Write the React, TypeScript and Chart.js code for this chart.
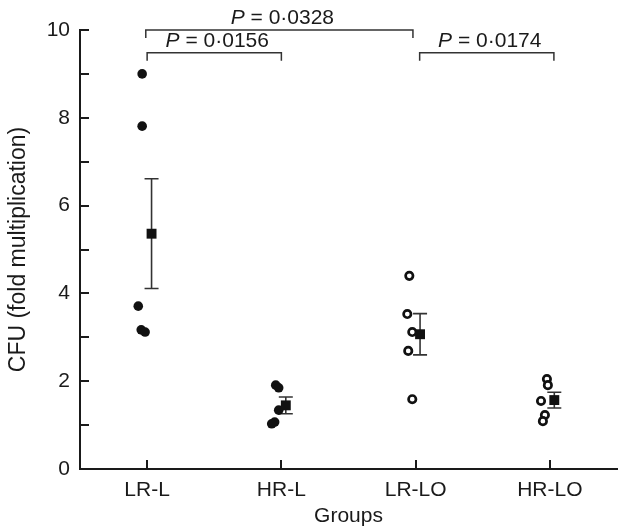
import { useEffect, useRef } from 'react';
import { Chart, registerables } from 'chart.js';

Chart.register(...registerables);

const categories = ['LR-L', 'HR-L', 'LR-LO', 'HR-LO'];

// individual values per group
const lrL = [9.0, 7.81, 3.71, 3.17, 3.12];
const hrL = [1.91, 1.85, 1.34, 1.07, 1.03];
const lrLO = [4.4, 3.53, 3.12, 2.69, 1.59];
const hrLO = [2.05, 1.91, 1.55, 1.23, 1.09];

// horizontal scatter (category units) of individual points
const jitterLrL = [-0.037, -0.037, -0.066, -0.044, -0.015];
const jitterHrL = [-0.042, -0.02, -0.02, -0.05, -0.072];
const jitterLrLO = [-0.047, -0.062, -0.025, -0.055, -0.025];
const jitterHrLO = [-0.022, -0.015, -0.066, -0.037, -0.052];

// group means and SEM
const means = [5.36, 1.45, 3.07, 1.57];
const sems = [1.25, 0.19, 0.47, 0.18];
const meanOffset = 0.033;

// significance brackets
const bracketFrom = [0.99, 1.0, 3.03];
const bracketTo = [2.98, 2.0, 4.03];
const bracketY = [10, 9.48, 9.48];
const bracketP = ['0·0328', '0·0156', '0·0174'];

const yTicks = [0, 1, 2, 3, 4, 5, 6, 7, 8, 9, 10];

const FONT = '"Liberation Sans", Arial, Helvetica, sans-serif';
const INK = '#1a1a1a';

const toPts = (vals: number[], jit: number[], g: number) =>
  vals.map((v, i) => ({ x: g + jit[i], y: v }));

export default function App() {
  const ref = useRef<HTMLCanvasElement | null>(null);

  useEffect(() => {
    const canvas = ref.current;
    if (!canvas) return;

    const overlay = {
      id: 'overlay',
      beforeDatasetsDraw(chart: any) {
        const { ctx, scales } = chart;
        const x = scales.x;
        const y = scales.y;
        ctx.save();
        ctx.strokeStyle = '#333';
        ctx.lineWidth = 1.6;
        means.forEach((m, i) => {
          const px = x.getPixelForValue(i + 1 + meanOffset);
          const top = y.getPixelForValue(m + sems[i]);
          const bot = y.getPixelForValue(m - sems[i]);
          ctx.beginPath();
          ctx.moveTo(px, top);
          ctx.lineTo(px, bot);
          ctx.moveTo(px - 7, top);
          ctx.lineTo(px + 7, top);
          ctx.moveTo(px - 7, bot);
          ctx.lineTo(px + 7, bot);
          ctx.stroke();
        });
        ctx.restore();
      },
      afterDraw(chart: any) {
        const { ctx, scales, chartArea } = chart;
        const x = scales.x;
        const y = scales.y;
        ctx.save();
        // inward tick marks
        ctx.strokeStyle = INK;
        ctx.lineWidth = 2;
        ctx.beginPath();
        yTicks.forEach((v) => {
          const py = Math.round(y.getPixelForValue(v));
          ctx.moveTo(chartArea.left, py);
          ctx.lineTo(chartArea.left + 9, py);
        });
        categories.forEach((_, i) => {
          const px = Math.round(x.getPixelForValue(i + 1));
          ctx.moveTo(px, chartArea.bottom);
          ctx.lineTo(px, chartArea.bottom - 9);
        });
        ctx.stroke();

        // brackets
        ctx.strokeStyle = '#333';
        ctx.lineWidth = 1.5;
        ctx.fillStyle = INK;
        bracketFrom.forEach((f, i) => {
          const x1 = x.getPixelForValue(f);
          const x2 = x.getPixelForValue(bracketTo[i]);
          const py = y.getPixelForValue(bracketY[i]);
          ctx.beginPath();
          ctx.moveTo(x1, py + 8);
          ctx.lineTo(x1, py);
          ctx.lineTo(x2, py);
          ctx.lineTo(x2, py + 8);
          ctx.stroke();

          const italic = 'italic 21px ' + FONT;
          const normal = '21px ' + FONT;
          const rest = ' = ' + bracketP[i];
          ctx.font = italic;
          const w1 = ctx.measureText('P').width;
          ctx.font = normal;
          const w2 = ctx.measureText(rest).width;
          const cx = (x1 + x2) / 2 + 3;
          const sx = cx - (w1 + w2) / 2;
          ctx.textBaseline = 'alphabetic';
          ctx.textAlign = 'left';
          ctx.font = italic;
          ctx.fillText('P', sx, py - 6);
          ctx.font = normal;
          ctx.fillText(rest, sx + w1, py - 6);
        });
        ctx.restore();
      },
    };

    const chart = new Chart(canvas, {
      type: 'scatter',
      data: {
        datasets: [
          {
            label: 'mean',
            data: means.map((m, i) => ({ x: i + 1 + meanOffset, y: m })),
            pointStyle: 'rect',
            pointRadius: 7,
            backgroundColor: '#111',
            borderColor: '#111',
            borderWidth: 0,
          },
          {
            label: 'LR-L',
            data: toPts(lrL, jitterLrL, 1),
            pointStyle: 'circle',
            pointRadius: 4.8,
            backgroundColor: '#111',
            borderColor: '#111',
            borderWidth: 0,
          },
          {
            label: 'HR-L',
            data: toPts(hrL, jitterHrL, 2),
            pointStyle: 'circle',
            pointRadius: 4.8,
            backgroundColor: '#111',
            borderColor: '#111',
            borderWidth: 0,
          },
          {
            label: 'LR-LO',
            data: toPts(lrLO, jitterLrLO, 3),
            pointStyle: 'circle',
            pointRadius: 3.7,
            backgroundColor: '#fff',
            borderColor: '#111',
            borderWidth: 2.7,
          },
          {
            label: 'HR-LO',
            data: toPts(hrLO, jitterHrLO, 4),
            pointStyle: 'circle',
            pointRadius: 3.7,
            backgroundColor: '#fff',
            borderColor: '#111',
            borderWidth: 2.7,
          },
        ],
      },
      options: {
        responsive: false,
        animation: false,
        devicePixelRatio: 1,
        layout: { padding: { top: 30, right: 0, left: 0, bottom: 0 } },
        plugins: {
          legend: { display: false },
          tooltip: { enabled: false },
        },
        elements: { point: { hoverRadius: 0 } },
        scales: {
          x: {
            type: 'linear',
            min: 0.5,
            max: 4.5,
            afterBuildTicks: (axis: any) => {
              axis.ticks = categories.map((_, i) => ({ value: i + 1 }));
            },
            afterFit: (axis: any) => {
              axis.height = 60;
            },
            grid: { display: false, drawTicks: false },
            border: { display: true, color: INK, width: 2 },
            ticks: {
              autoSkip: false,
              maxRotation: 0,
              padding: 9,
              color: INK,
              font: { family: FONT, size: 21 },
              callback: (v: any) => categories[Number(v) - 1] ?? '',
            },
            title: {
              display: true,
              text: 'Groups',
              color: INK,
              font: { family: FONT, size: 21 },
              padding: { top: 0, bottom: 0 },
            },
          },
          y: {
            min: 0,
            max: 10,
            afterBuildTicks: (axis: any) => {
              axis.ticks = yTicks.map((v) => ({ value: v }));
            },
            afterFit: (axis: any) => {
              axis.width = 80;
            },
            grid: { display: false, drawTicks: false },
            border: { display: true, color: INK, width: 2 },
            ticks: {
              autoSkip: false,
              padding: 10,
              color: INK,
              font: { family: FONT, size: 21 },
              callback: (v: any) => (Number(v) % 2 === 0 ? String(v) : ''),
            },
            title: {
              display: true,
              text: 'CFU (fold multiplication)',
              color: INK,
              font: { family: FONT, size: 23 },
              padding: { top: 5, bottom: 0 },
            },
          },
        },
      },
      plugins: [overlay],
    } as any);

    return () => chart.destroy();
  }, []);

  return (
    <div style={{ position: 'fixed', left: 0, top: 0, width: 624, height: 529, background: '#fff' }}>
      <canvas ref={ref} width={624} height={529} style={{ display: 'block' }} />
    </div>
  );
}
